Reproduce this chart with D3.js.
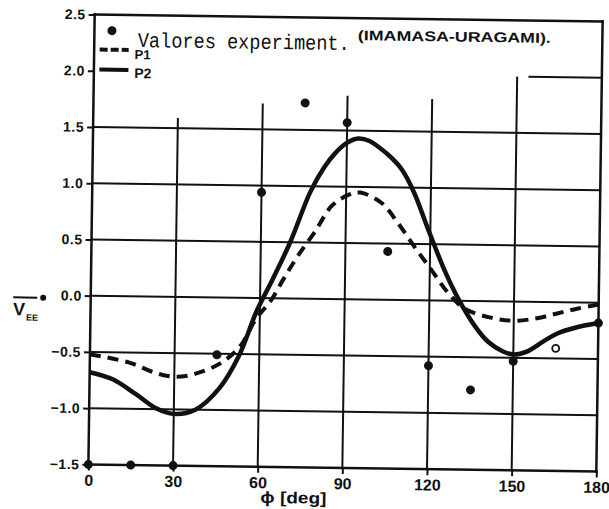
<!DOCTYPE html>
<html>
<head>
<meta charset="utf-8">
<script src="https://cdn.jsdelivr.net/npm/d3@7"></script>
<style>
  body { margin: 0; background: #fff; }
  svg { display: block; }
</style>
</head>
<body>
<div id="chart"></div>
<script>
// Data
var yTicks = [-1.5, -1.0, -0.5, 0.0, 0.5, 1.0, 1.5, 2.0, 2.5]
var xTicks = [0, 30, 60, 90, 120, 150, 180]

var p1Phi = [0, 14, 23.5, 30.6, 37.6, 45.9, 52.9, 58.8, 63.6, 68.4, 73.2, 79.2, 85, 91, 95, 102.6, 108.6, 114.6, 120.6, 126.6, 132.6, 141.8, 150, 158.2, 165.3, 172.4, 180]
var p1Val = [-0.52, -0.59, -0.68, -0.71, -0.68, -0.59, -0.44, -0.18, -0.03, 0.18, 0.38, 0.6, 0.83, 0.93, 0.95, 0.86, 0.68, 0.47, 0.27, 0.07, -0.07, -0.145, -0.17, -0.145, -0.1, -0.055, -0.015]

var p2Phi = [0, 8.2, 16.5, 23.5, 30, 37.6, 45.9, 52.9, 58.8, 64.6, 70.4, 77.3, 82.1, 86, 90, 94, 98, 102.2, 106, 109.6, 114, 119.4, 125.4, 130.2, 136.2, 141, 146, 150, 155, 160.6, 165.3, 172.4, 180]
var p2Val = [-0.68, -0.74, -0.87, -0.99, -1.04, -1.0, -0.81, -0.51, -0.12, 0.18, 0.5, 0.95, 1.17, 1.3, 1.39, 1.43, 1.41, 1.34, 1.26, 1.16, 0.96, 0.62, 0.26, 0.02, -0.22, -0.36, -0.44, -0.47, -0.44, -0.35, -0.28, -0.22, -0.18]

var expPhi = [0, 15, 30, 45, 60, 75, 90, 105, 120, 135, 150, 165, 180]
var expVal = [-1.5, -1.5, -1.5, -0.51, 0.94, 1.74, 1.57, 0.43, -0.58, -0.79, -0.53, -0.41, -0.18]
var expHollow = [false, false, false, false, false, false, false, false, false, false, false, true, false]

// vertical grid lines stop at different heights in the upper part
var gridPhi = [30, 60, 90, 120, 150]
var gridTop = [1.59, 1.73, 1.81, 1.79, 2.0]

var width = 609
var height = 509

var svg = d3.select('#chart')
  .append('svg')
  .attr('width', width)
  .attr('height', height)

// the scan is slightly turned
var g = svg.append('g')
  .attr('transform', 'rotate(0.8, 345, 243)')

var x = d3.scaleLinear().domain([0, 180]).range([91.5, 599.5])
var y = d3.scaleLinear().domain([-1.5, 2.5]).range([468, 18])

var ink = '#111'
var sans = 'Liberation Sans, Arial, sans-serif'

// frame: left, top, right, bottom
var borders = [
  [0, -1.5, 0, 2.5],
  [0, 2.5, 180, 2.5],
  [180, 2.5, 180, -1.5],
  [0, -1.5, 180, -1.5]
]
g.selectAll('.border')
  .data(borders)
  .enter()
  .append('line')
  .attr('class', 'border')
  .attr('x1', d => x(d[0]))
  .attr('y1', d => y(d[1]))
  .attr('x2', d => x(d[2]))
  .attr('y2', d => y(d[3]))
  .attr('stroke', ink)
  .attr('stroke-width', 2.5)
  .attr('stroke-linecap', 'square')

// horizontal grid
g.selectAll('.hgrid')
  .data(yTicks.filter(d => d > -1.5 && d <= 1.5))
  .enter()
  .append('line')
  .attr('class', 'hgrid')
  .attr('x1', x(0))
  .attr('x2', x(180))
  .attr('y1', d => y(d))
  .attr('y2', d => y(d))
  .attr('stroke', ink)
  .attr('stroke-width', 2)

// vertical grid
g.selectAll('.vgrid')
  .data(gridPhi)
  .enter()
  .append('line')
  .attr('class', 'vgrid')
  .attr('x1', d => x(d))
  .attr('x2', d => x(d))
  .attr('y1', y(-1.5))
  .attr('y2', (d, i) => y(gridTop[i]))
  .attr('stroke', ink)
  .attr('stroke-width', 2)

g.append('line')
  .attr('x1', x(154))
  .attr('x2', x(180))
  .attr('y1', y(2.0))
  .attr('y2', y(2.0))
  .attr('stroke', ink)
  .attr('stroke-width', 2)

// axes ticks and labels
var yAxis = d3.axisLeft(y)
  .tickValues(yTicks)
  .tickSize(6)
  .tickPadding(3)
  .tickFormat(d3.format('.1f'))
g.append('g')
  .attr('class', 'axis y-axis')
  .attr('transform', `translate(${x(0)}, 0)`)
  .call(yAxis)

var xAxis = d3.axisBottom(x)
  .tickValues(xTicks)
  .tickSize(6)
  .tickPadding(4)
g.append('g')
  .attr('class', 'axis x-axis')
  .attr('transform', `translate(0, ${y(-1.5)})`)
  .call(xAxis)

g.selectAll('.axis .domain').remove()
g.selectAll('.axis line').attr('stroke', ink).attr('stroke-width', 2)
g.selectAll('.y-axis text')
  .attr('font-family', sans)
  .attr('font-weight', 'bold')
  .attr('font-size', 14)
  .attr('letter-spacing', 0.5)
  .attr('fill', ink)
g.selectAll('.x-axis text')
  .attr('font-family', sans)
  .attr('font-weight', 'bold')
  .attr('font-size', 16)
  .attr('fill', ink)

// curves
var line = d3.line()
  .x(d => x(d[0]))
  .y(d => y(d[1]))
  .curve(d3.curveCatmullRom)

g.append('path')
  .datum(d3.zip(p1Phi, p1Val))
  .attr('d', line)
  .attr('fill', 'none')
  .attr('stroke', ink)
  .attr('stroke-width', 4)
  .attr('stroke-dasharray', '11,7')

g.append('path')
  .datum(d3.zip(p2Phi, p2Val))
  .attr('d', line)
  .attr('fill', 'none')
  .attr('stroke', ink)
  .attr('stroke-width', 4.5)

// experimental points
g.selectAll('.pt')
  .data(d3.zip(expPhi, expVal, expHollow))
  .enter()
  .append('circle')
  .attr('class', 'pt')
  .attr('cx', d => x(d[0]))
  .attr('cy', d => y(d[1]))
  .attr('r', d => d[2] ? 3.5 : 4.5)
  .attr('fill', d => d[2] ? '#fff' : ink)
  .attr('stroke', ink)
  .attr('stroke-width', d => d[2] ? 1.8 : 0)

// legend
g.append('circle')
  .attr('cx', 109).attr('cy', 34).attr('r', 4.5).attr('fill', ink)
g.append('line')
  .attr('x1', 97).attr('x2', 126).attr('y1', 53).attr('y2', 53)
  .attr('stroke', ink).attr('stroke-width', 4).attr('stroke-dasharray', '8,3')
g.append('line')
  .attr('x1', 97).attr('x2', 126).attr('y1', 73).attr('y2', 73)
  .attr('stroke', ink).attr('stroke-width', 4)
g.append('text')
  .text('P1')
  .attr('x', 132).attr('y', 62)
  .attr('font-family', sans)
  .attr('font-weight', 'bold').attr('font-size', 13).attr('fill', ink)
g.append('text')
  .text('P2')
  .attr('x', 132).attr('y', 81)
  .attr('font-family', sans)
  .attr('font-weight', 'bold').attr('font-size', 14).attr('fill', ink)
g.append('text')
  .text('Valores experiment.')
  .attr('x', 135).attr('y', 50)
  .attr('font-family', 'Liberation Mono, Courier New, monospace')
  .attr('font-size', 21)
  .attr('textLength', 212)
  .attr('lengthAdjust', 'spacingAndGlyphs')
  .attr('fill', ink)
g.append('text')
  .text('(IMAMASA-URAGAMI).')
  .attr('x', 355).attr('y', 40)
  .attr('font-family', sans)
  .attr('font-weight', 'bold')
  .attr('font-size', 14)
  .attr('textLength', 193)
  .attr('lengthAdjust', 'spacingAndGlyphs')
  .attr('fill', ink)

// axis titles
g.append('line')
  .attr('x1', 14).attr('x2', 38).attr('y1', 302).attr('y2', 302)
  .attr('stroke', ink).attr('stroke-width', 2)
g.append('text')
  .text('V')
  .attr('x', 14).attr('y', 320)
  .attr('font-family', sans)
  .attr('font-weight', 'bold').attr('font-size', 18).attr('fill', ink)
g.append('text')
  .text('EE')
  .attr('x', 27).attr('y', 325)
  .attr('font-family', sans)
  .attr('font-weight', 'bold').attr('font-size', 9).attr('fill', ink)
g.append('circle')
  .attr('cx', 44).attr('cy', 302).attr('r', 3).attr('fill', ink)

g.append('text')
  .text('ϕ [deg]')
  .attr('x', 264).attr('y', 504)
  .attr('font-family', sans)
  .attr('font-weight', 'bold')
  .attr('font-size', 16)
  .attr('textLength', 66)
  .attr('lengthAdjust', 'spacingAndGlyphs')
  .attr('fill', ink)
</script>
</body>
</html>
